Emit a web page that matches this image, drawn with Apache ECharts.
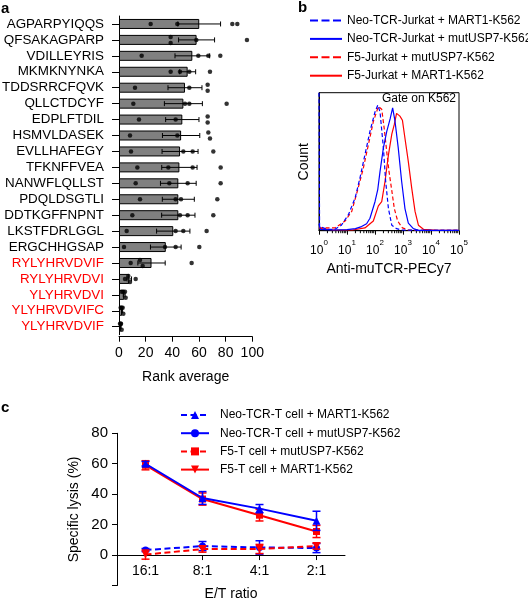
<!DOCTYPE html>
<html><head><meta charset="utf-8">
<script src="https://cdn.jsdelivr.net/npm/echarts@6/dist/echarts.min.js"></script>
<style>html,body{margin:0;padding:0;background:#fff}#c{width:528px;height:600px}</style>
</head><body><div id="c"></div>
<script>
// ---------- Panel a data ----------
const peptides = ['AGPARPYIQQS','QFSAKAGPARP','VDILLEYRIS','MKMKNYNKA','TDDSRRCFQVK','QLLCTDCYF','EDPLFTDIL','HSMVLDASEK','EVLLHAFEGY','TFKNFFVEA','NANWFLQLLST','PDQLDSGTLI','DDTKGFFNPNT','LKSTFDRLGGL','ERGCHHGSAP','RYLYHRVDVIF','RYLYHRVDVI','YLYHRVDVI','YLYHRVDVIFC','YLYHRVDVIF'];
const redPeptides = ['RYLYHRVDVIF','RYLYHRVDVI','YLYHRVDVI','YLYHRVDVIFC','YLYHRVDVIF'];
const rankMeans = [60.2,58.2,55,51.5,49.5,48.3,47.5,46.6,45.8,45.3,44.5,44.5,44.5,40.7,35.1,24.4,7.7,3.9,2.3,1.3];
const rankSem = [16,13.5,13,6,12.75,14.25,12.5,14,13.5,13.25,13.4,12,12.5,12.5,11.5,10.25,1.7,0.7,0.4,0.3];
const rankReplicates = [
  [23.75,43.75,85,88.75],[38.75,38.75,58,96],[17,59.5,67,76],[38.75,45.75,52.75,68.25],
  [12,52.75,66.5,66.5],[10.75,49.5,52.75,80.75],[15,42.5,66.5,66.5],[8.25,43.75,67,68.25],
  [9,48.25,55.25,70.75],[13.75,37,55.25,76.25],[12.5,37.75,51.5,76.25],[15.75,42.5,46.5,73.75],
  [10,45.75,51.5,70.75],[5.75,42.5,48.25,65.75],[3.75,34.5,42.5,60.25],[8.75,15.75,17.75,54.5],
  [4.5,7,8.25,12.5],[2,3.25,4.5,5],[1.25,2,2.75,3.25],[0.75,1.25,1.5,2]
];
const rankTicks = [0,20,40,60,80,100];

// ---------- Panel b data (x = log10 fluorescence, y = % of max count) ----------
const histNeoMart1 = [[0,100],[0.02,3],[0.3,1],[0.57,1],[0.8,4],[1.05,11.6],[1.29,23.7],[1.46,38],[1.64,55],[1.82,72],[2.0,86],[2.1,91],[2.18,86],[2.3,60],[2.38,36],[2.48,16],[2.6,4],[2.77,1.5],[2.95,0.5],[3.5,0.3],[4.5,0.2],[5,0.2]];
const histNeoMut = [[0,5],[0.05,1],[0.5,0.5],[1.0,0.8],[1.3,1.5],[1.52,3],[1.7,5],[1.82,9],[2.0,21],[2.1,30],[2.18,43],[2.3,60],[2.42,72],[2.54,81],[2.63,89],[2.71,80],[2.83,60],[2.95,36],[3.07,16],[3.19,5.5],[3.37,1.5],[3.55,0.3],[4.5,0.2],[5,0.2]];
const histF5Mut = [[0,2],[0.21,2],[0.57,2],[0.93,7],[1.17,14],[1.4,31],[1.58,45],[1.76,62],[1.94,79],[2.12,90],[2.18,91],[2.24,88],[2.33,74],[2.42,57],[2.5,43],[2.6,29],[2.69,16],[2.81,7],[2.98,2],[3.19,0.5],[4,0.2],[5,0.2]];
const histF5Mart1 = [[0,2],[0.1,1.5],[0.5,0.5],[1.2,0.5],[1.64,2],[1.94,7],[2.12,18],[2.24,21],[2.36,36],[2.48,55],[2.6,70],[2.69,77],[2.77,85],[2.83,84],[2.89,83],[2.98,80],[3.07,67],[3.19,50],[3.31,31],[3.43,14],[3.55,4],[3.73,1],[4.2,0.3],[5,0.2]];
const decades = [0,1,2,3,4,5];

// ---------- Panel c data ----------
const ratios = ['16:1','8:1','4:1','2:1'];
const lysisNeoMart1 = [3.3,5.9,5,4.6];
const errNeoMart1 = [1,3,4.4,3];
const lysisNeoMut = [60,37.5,30.5,22.5];
const errNeoMut = [1.5,4.2,2.7,6.3];
const lysisF5Mut = [0.3,3.9,4,5.9];
const errF5Mut = [3,2,3,2];
const lysisF5Mart1 = [59,36.8,26.2,15.5];
const errF5Mart1 = [3,4,3.8,4];
const lysisTicks = [-20,0,20,40,60,80];

// ---------- Chart ----------
const FF = '"Liberation Sans", Arial, Helvetica, sans-serif';
const BLUE = '#0000ff', RED = '#ff0000';
const blackLine = {show:true, lineStyle:{color:'#000', width:1}};

// jitter for overlapping replicate dots (styling only)
const dotData = [];
rankReplicates.forEach((vals, row) => {
  const sorted = vals.slice().sort((a,b)=>a-b);
  let prev = null;
  sorted.forEach((v, i) => {
    let off = 0;
    if (prev !== null && Math.abs(v - prev.value[0]) < 2.5) { prev.symbolOffset = [0,-3]; off = 3; }
    const item = {value:[v, row], symbolOffset:[0, off]};
    dotData.push(item);
    prev = item;
  });
});

// minor log ticks (axis decoration)
const minorTicks = [];
for (let n = 0; n < 5; n++) for (let k = 2; k <= 9; k++) minorTicks.push([n + Math.log10(k), 0]);

function hErrorBar(color, lw, cap) {
  return function(params, api) {
    const m = api.value(0), row = api.value(1), e = api.value(2);
    const p1 = api.coord([m - e, row]), p2 = api.coord([m + e, row]);
    const st = {stroke: color, lineWidth: lw};
    return {type:'group', children:[
      {type:'line', shape:{x1:p1[0],y1:p1[1],x2:p2[0],y2:p2[1]}, style:st},
      {type:'line', shape:{x1:p1[0],y1:p1[1]-cap,x2:p1[0],y2:p1[1]+cap}, style:st},
      {type:'line', shape:{x1:p2[0],y1:p2[1]-cap,x2:p2[0],y2:p2[1]+cap}, style:st}
    ]};
  };
}
function vErrorBar(color, lw, cap) {
  return function(params, api) {
    const c = api.value(0), m = api.value(1), e = api.value(2);
    const p1 = api.coord([c, m - e]), p2 = api.coord([c, m + e]);
    const st = {stroke: color, lineWidth: lw};
    return {type:'group', children:[
      {type:'line', shape:{x1:p1[0],y1:p1[1],x2:p2[0],y2:p2[1]}, style:st},
      {type:'line', shape:{x1:p1[0]-cap,y1:p1[1],x2:p1[0]+cap,y2:p1[1]}, style:st},
      {type:'line', shape:{x1:p2[0]-cap,y1:p2[1],x2:p2[0]+cap,y2:p2[1]}, style:st}
    ]};
  };
}
const errData = (vals, errs) => vals.map((v,i)=>[i, v, errs[i]]);

const nameNeoMart1 = 'Neo-TCR-T cell + MART1-K562';
const nameNeoMut = 'Neo-TCR-T cell + mutUSP7-K562';
const nameF5Mut = 'F5-T cell + mutUSP7-K562';
const nameF5Mart1 = 'F5-T cell + MART1-K562';
const bNeoMart1 = 'Neo-TCR-Jurkat + MART1-K562';
const bNeoMut = 'Neo-TCR-Jurkat + mutUSP7-K562';
const bF5Mut = 'F5-Jurkat + mutUSP7-K562';
const bF5Mart1 = 'F5-Jurkat + MART1-K562';

const chart = echarts.init(document.getElementById('c'));
chart.setOption({
  animation:false,
  backgroundColor:'#fff',
  textStyle:{fontFamily:FF},
  graphic:[
    {type:'text', left:1, top:1, style:{text:'a', font:'bold 15px '+FF, fill:'#000'}},
    {type:'text', left:298, top:0, style:{text:'b', font:'bold 15px '+FF, fill:'#000'}},
    {type:'text', left:1, top:400, style:{text:'c', font:'bold 15px '+FF, fill:'#000'}},
    {type:'text', right:72, top:93, style:{text:'Gate on K562', font:'12px '+FF, fill:'#000'}}
  ],
  grid:[
    {left:119, top:16, width:133.3, height:318.7, outerBoundsMode:'none', containLabel:false},
    {left:319, top:92.7, width:140, height:138, show:true, borderColor:'#000', borderWidth:1, backgroundColor:'transparent', outerBoundsMode:'none', containLabel:false},
    {left:117, top:433.3, width:228, height:152.2, outerBoundsMode:'none', containLabel:false}
  ],
  legend:[
    {orient:'vertical', left:309, top:14.5, padding:0, itemWidth:32, itemHeight:12, itemGap:6.4,
     selectedMode:false, itemStyle:{opacity:0},
     textStyle:{fontSize:12, lineHeight:12, color:'#000', fontFamily:FF},
     lineStyle:{width:2},
     data:[{name:bNeoMart1, lineStyle:{type:[8,3.5], width:2}}, {name:bNeoMut}, {name:bF5Mut, lineStyle:{type:[8,3.5], width:2}}, {name:bF5Mart1}]},
    {orient:'vertical', left:180, top:409, padding:0, itemWidth:28, itemHeight:10, itemGap:6.2,
     selectedMode:false,
     textStyle:{fontSize:12, lineHeight:12, color:'#000', fontFamily:FF, padding:[0,0,0,6]},
     data:[nameNeoMart1, nameNeoMut, nameF5Mut, nameF5Mart1]}
  ],
  xAxis:[
    {gridIndex:0, type:'value', min:0, max:100, interval:20, offset:2,
     axisLine:blackLine, axisTick:{show:true, length:5, lineStyle:{color:'#000'}},
     axisLabel:{fontSize:14, color:'#000', margin:9, fontFamily:FF}, splitLine:{show:false},
     name:'Rank average', nameLocation:'middle', nameGap:33, nameTextStyle:{fontSize:14, color:'#000', fontFamily:FF}},
    {gridIndex:1, type:'value', min:0, max:5, interval:1,
     axisLine:blackLine, axisTick:{show:true, length:4, lineStyle:{color:'#000'}},
     axisLabel:{margin:8, formatter: v => '{b|10}{s|' + v + '}',
       rich:{b:{fontSize:12, lineHeight:18, verticalAlign:'bottom', color:'#000', fontFamily:FF},
             s:{fontSize:8, lineHeight:8, verticalAlign:'top', color:'#000', fontFamily:FF}}},
     splitLine:{show:false},
     name:'Anti-muTCR-PECy7', nameLocation:'middle', nameGap:31, nameTextStyle:{fontSize:14, color:'#000', fontFamily:FF}},
    {gridIndex:2, type:'category', data:ratios, boundaryGap:true, offset:-30.44,
     axisLine:{show:true, onZero:false, lineStyle:{color:'#000', width:1}},
     axisTick:{show:true, alignWithLabel:true, length:5, lineStyle:{color:'#000'}},
     axisLabel:{fontSize:14, color:'#000', margin:9, fontFamily:FF},
     name:'E/T ratio', nameLocation:'middle', nameGap:32, nameTextStyle:{fontSize:14, color:'#000', fontFamily:FF}}
  ],
  yAxis:[
    {gridIndex:0, type:'category', inverse:true,
     data: peptides.map(p => ({value:p, textStyle:{color: redPeptides.includes(p) ? RED : '#000'}})),
     axisLine:blackLine, axisTick:{show:true, alignWithLabel:true, length:7, lineStyle:{color:'#000'}},
     axisLabel:{fontSize:13.4, margin:15, fontFamily:FF, interval:0}},
    {gridIndex:1, type:'value', min:0, max:100, axisLine:blackLine, axisTick:{show:false}, axisLabel:{show:false},
     splitLine:{show:false}, name:'Count', nameLocation:'middle', nameGap:8, nameTextStyle:{fontSize:14, color:'#000', fontFamily:FF}},
    {gridIndex:2, type:'value', min:-20, max:80, interval:20,
     axisLine:blackLine, axisTick:{show:true, length:5, lineStyle:{color:'#000'}},
     axisLabel:{fontSize:15, color:'#000', margin:9, fontFamily:FF, formatter: v => v < 0 ? '' : String(v)},
     splitLine:{show:false},
     name:'Specific lysis (%)', nameLocation:'middle', nameGap:36, nameTextStyle:{fontSize:14, color:'#000', fontFamily:FF}}
  ],
  series:[
    // panel a
    {type:'bar', xAxisIndex:0, yAxisIndex:0, data:rankMeans, barWidth:10,
     itemStyle:{color:'#808080', borderColor:'#000', borderWidth:1}, z:2},
    {type:'custom', xAxisIndex:0, yAxisIndex:0, renderItem:hErrorBar('#000',1,2.5),
     data: rankMeans.map((m,i)=>[m, i, rankSem[i]]), encode:{x:0, y:1}, z:3},
    {type:'scatter', xAxisIndex:0, yAxisIndex:0, data:dotData, symbolSize:4.5,
     itemStyle:{color:'#000'}, z:4},
    // panel b
    {type:'custom', xAxisIndex:1, yAxisIndex:1, data:minorTicks, encode:{x:0,y:1}, silent:true,
     renderItem:(params, api) => { const p = api.coord([api.value(0), 0]);
       return {type:'line', shape:{x1:p[0], y1:p[1], x2:p[0], y2:p[1]+2.5}, style:{stroke:'#000', lineWidth:1}}; }},
    {name:bNeoMart1, type:'line', xAxisIndex:1, yAxisIndex:1, data:histNeoMart1, symbol:'none',
     lineStyle:{color:BLUE, width:1.2, type:[4,2.5]}, itemStyle:{color:BLUE}, z:3},
    {name:bNeoMut, type:'line', xAxisIndex:1, yAxisIndex:1, data:histNeoMut, symbol:'none',
     lineStyle:{color:BLUE, width:1.2}, itemStyle:{color:BLUE}, z:3},
    {name:bF5Mut, type:'line', xAxisIndex:1, yAxisIndex:1, data:histF5Mut, symbol:'none',
     lineStyle:{color:RED, width:1.2, type:[4,2.5]}, itemStyle:{color:RED}, z:2},
    {name:bF5Mart1, type:'line', xAxisIndex:1, yAxisIndex:1, data:histF5Mart1, symbol:'none',
     lineStyle:{color:RED, width:1.2}, itemStyle:{color:RED}, z:2},
    // panel c
    {name:nameF5Mart1, type:'line', xAxisIndex:2, yAxisIndex:2, symbol:'triangle', symbolRotate:180, symbolSize:8,
     data: lysisF5Mart1.map(v => ({value:v, symbol:'rect', symbolRotate:0, symbolSize:7})),
     lineStyle:{color:RED, width:2}, itemStyle:{color:RED}, z:3},
    {name:nameNeoMut, type:'line', xAxisIndex:2, yAxisIndex:2, symbol:'circle', symbolSize:7,
     data: lysisNeoMut.map(v => ({value:v, symbol:'triangle', symbolSize:8})),
     lineStyle:{color:BLUE, width:2}, itemStyle:{color:BLUE}, z:4},
    {name:nameNeoMart1, type:'line', xAxisIndex:2, yAxisIndex:2, symbol:'triangle', symbolSize:8,
     data: lysisNeoMart1.map(v => ({value:v, symbol:'circle', symbolSize:7})),
     lineStyle:{color:BLUE, width:2, type:[6,3.5]}, itemStyle:{color:BLUE}, z:4},
    {name:nameF5Mut, type:'line', xAxisIndex:2, yAxisIndex:2, symbol:'rect', symbolSize:7,
     data: lysisF5Mut.map(v => ({value:v, symbol:'triangle', symbolRotate:180, symbolSize:8})),
     lineStyle:{color:RED, width:2, type:[6,3.5]}, itemStyle:{color:RED}, z:5},
    {type:'custom', xAxisIndex:2, yAxisIndex:2, renderItem:vErrorBar(RED,1.5,4), data:errData(lysisF5Mart1, errF5Mart1), encode:{x:0,y:1}, z:3},
    {type:'custom', xAxisIndex:2, yAxisIndex:2, renderItem:vErrorBar(BLUE,1.5,4), data:errData(lysisNeoMut, errNeoMut), encode:{x:0,y:1}, z:4},
    {type:'custom', xAxisIndex:2, yAxisIndex:2, renderItem:vErrorBar(BLUE,1.5,4), data:errData(lysisNeoMart1, errNeoMart1), encode:{x:0,y:1}, z:4},
    {type:'custom', xAxisIndex:2, yAxisIndex:2, renderItem:vErrorBar(RED,1.5,4), data:errData(lysisF5Mut, errF5Mut), encode:{x:0,y:1}, z:5}
  ]
});
</script></body></html>
